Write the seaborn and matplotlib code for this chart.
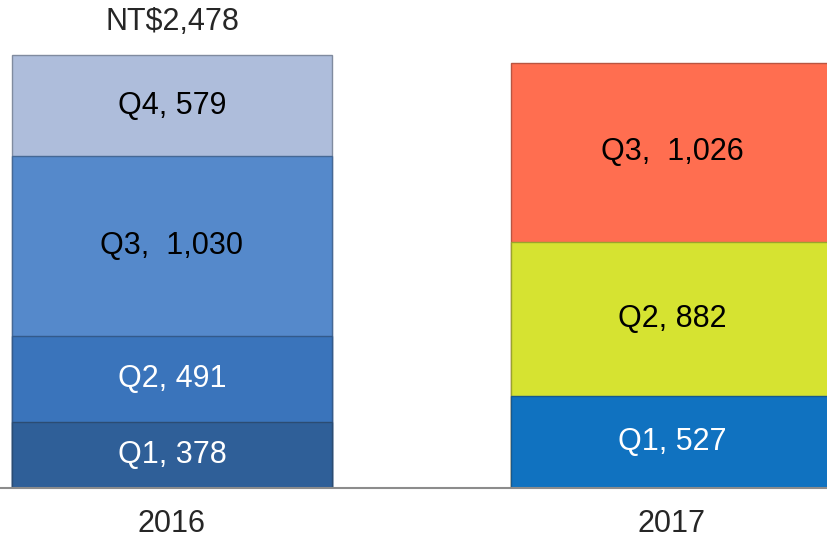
import matplotlib
matplotlib.use("Agg")
import matplotlib.pyplot as plt
import numpy as np
import pandas as pd
import seaborn as sns

# data
years = ["2016", "2017"]
quarters = ["Q1", "Q2", "Q3", "Q4"]
values_2016 = [378, 491, 1030, 579]
values_2017 = [527, 882, 1026]
total_label = "NT$2,478"

# colours per segment (2016 in blues, 2017 bright)
colors_2016 = ["#2f5f98", "#3a74bb", "#5589cb", "#aebddb"]
colors_2017 = ["#1072c0", "#d6e331", "#ff6e50"]
text_2016 = ["white", "white", "black", "black"]
text_2017 = ["white", "black", "black"]
labels_2016 = ["Q1, 378", "Q2, 491", "Q3,  1,030", "Q4, 579"]
labels_2017 = ["Q1, 527", "Q2, 882", "Q3,  1,026"]

sns.set_style("white")
plt.rcParams["font.family"] = ["Liberation Sans", "DejaVu Sans"]

rows = []
for yr, vals, cols, tcols, labs in [(years[0], values_2016, colors_2016, text_2016, labels_2016),
                                    (years[1], values_2017, colors_2017, text_2017, labels_2017)]:
    cum = np.cumsum(vals)
    for i, v in enumerate(vals):
        rows.append(dict(year=yr, quarter=quarters[i], value=v, top=cum[i],
                         mid=cum[i] - v / 2, color=cols[i], tcolor=tcols[i], label=labs[i]))
df = pd.DataFrame(rows)

fig = plt.figure(figsize=(8.28, 5.4), dpi=100)
ax = fig.add_axes([0, 0.0963, 1, 0.9037])

# stacked bars: draw cumulative tops from the highest layer down
for q in reversed(quarters):
    sub = df[df.quarter == q]
    for _, r in sub.iterrows():
        d = pd.DataFrame({"year": pd.Categorical([r.year], categories=years), "top": [r.top]})
        sns.barplot(data=d, x="year", y="top", color=r.color, width=0.642,
                    edgecolor=sns.dark_palette(r.color, 4)[2], linewidth=1.0,
                    saturation=1, ax=ax, order=years)

for _, r in df.iterrows():
    ax.text(years.index(r.year), r.mid, r.label, ha="center", va="center",
            fontsize=22, color=r.tcolor)

ax.annotate(total_label, xy=(0, sum(values_2016)), xytext=(0, 24),
            textcoords="offset points", ha="center", va="center", fontsize=22)

ax.set_xlim(-0.344, 1.312)
ax.set_ylim(0, 2793)
ax.set_xlabel("")
ax.set_ylabel("")
ax.set_yticks([])
ax.set_xticks([0, 1])
ax.set_xticklabels(years, fontsize=22)
ax.tick_params(axis="x", length=0, pad=15)
for s in ["top", "left", "right"]:
    ax.spines[s].set_visible(False)
ax.spines["bottom"].set_color("#8c8c8c")
ax.spines["bottom"].set_linewidth(1.5)

fig.savefig("out.png", dpi=100)
